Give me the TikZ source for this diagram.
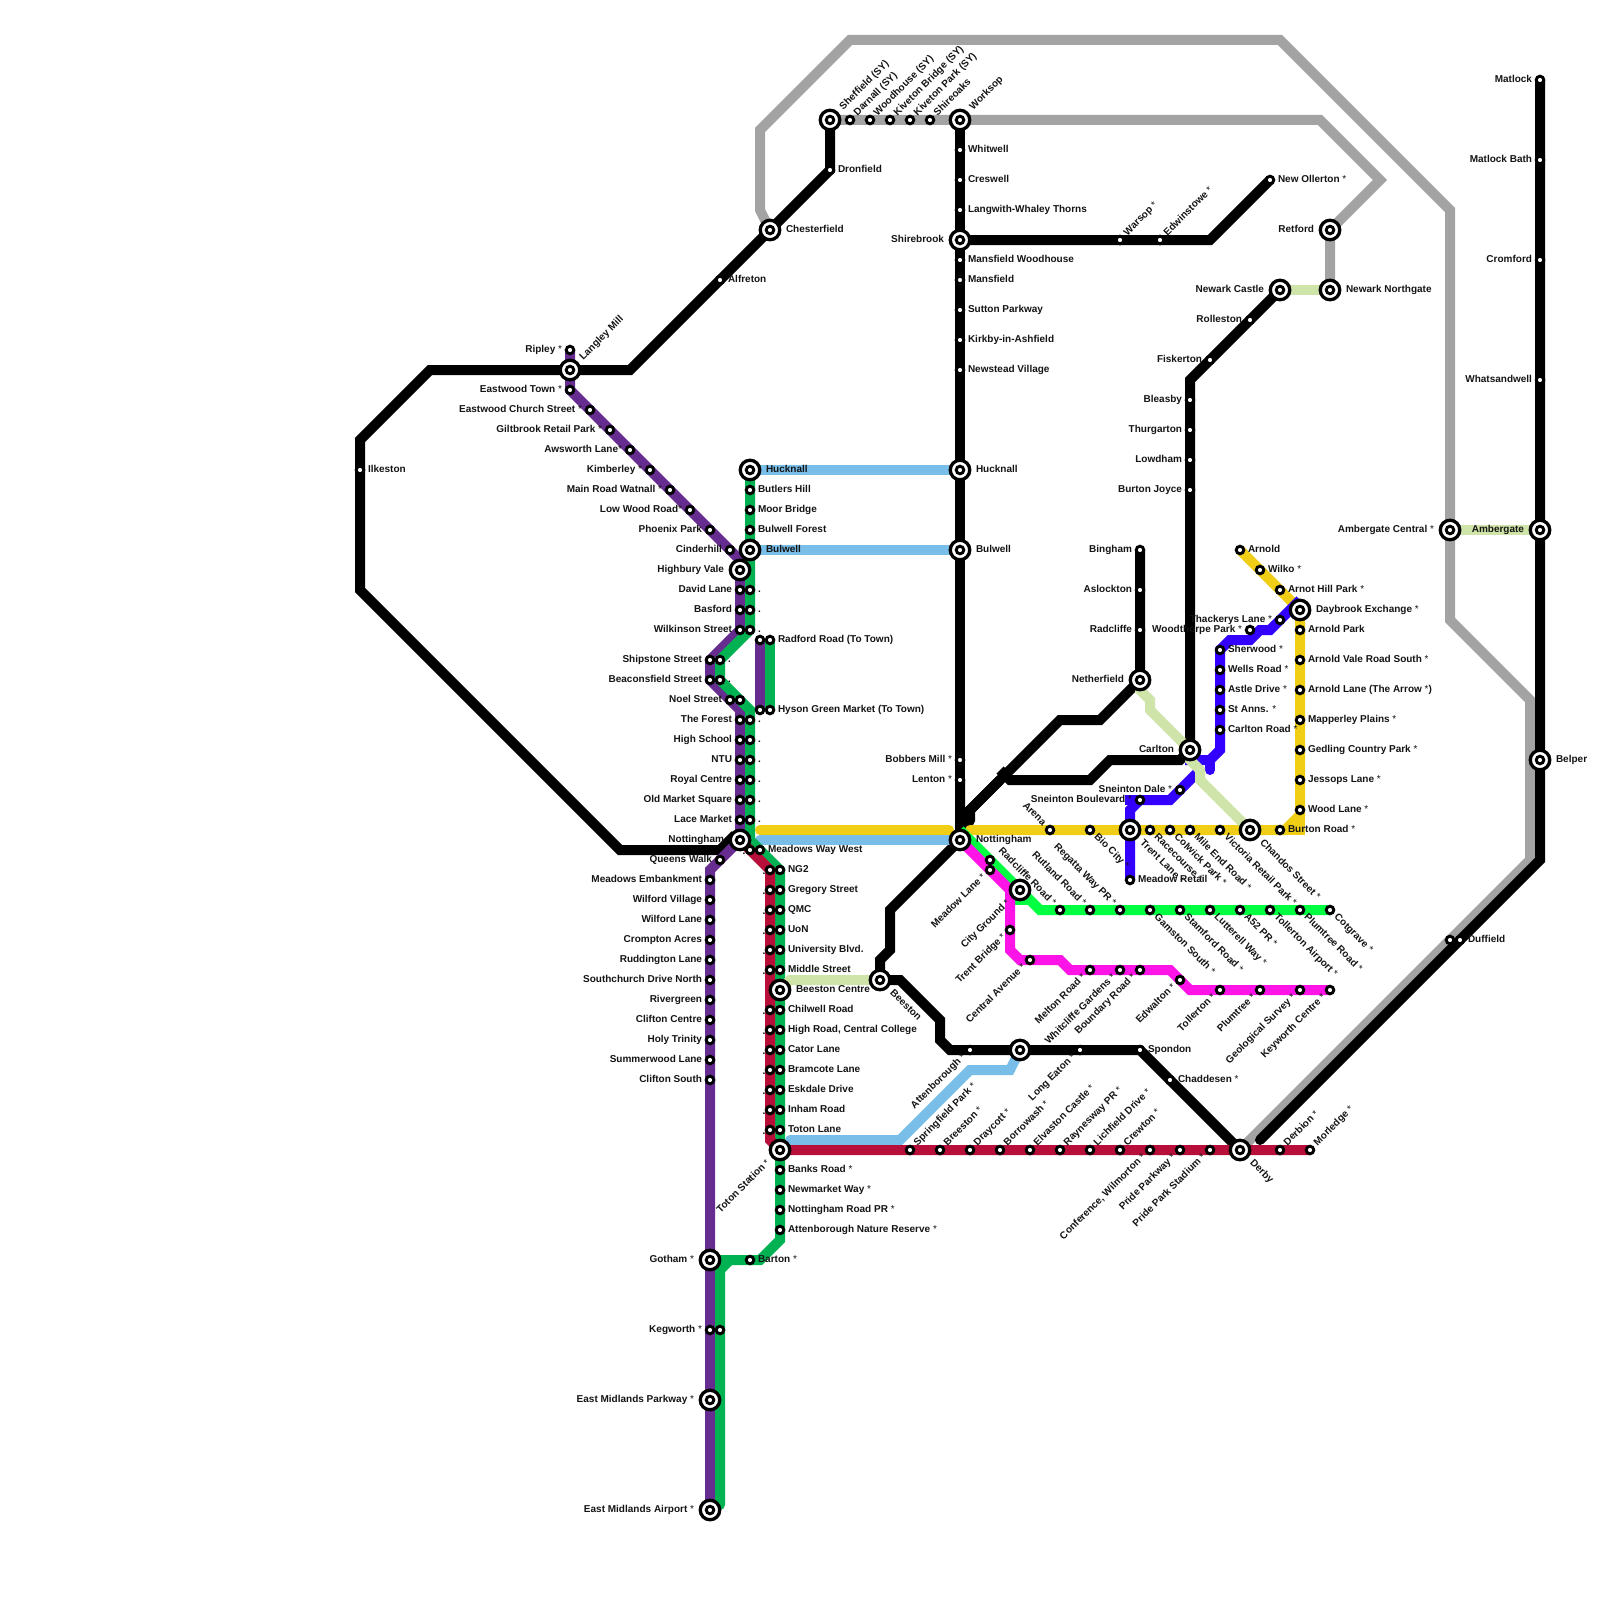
\documentclass[tikz,border=0pt]{standalone}
\usepackage{fontspec}
\setmainfont{Liberation Sans}
\pgfdeclarelayer{bg}
\pgfsetlayers{bg,main}
\definecolor{cgrey}{HTML}{A3A3A3}
\definecolor{cpurple}{HTML}{662C90}
\definecolor{cgreen}{HTML}{00B251}
\definecolor{cred}{HTML}{B80F3A}
\definecolor{cyel}{HTML}{F0CE15}
\definecolor{cneon}{HTML}{00FF41}
\definecolor{cmag}{HTML}{FF14E8}
\definecolor{cblue}{HTML}{3300FF}
\definecolor{cpale}{HTML}{CFE4A9}
\definecolor{clight}{HTML}{79BDE9}
\newcommand{\sx}{{\mdseries *}}
\tikzset{
  stnode/.style={circle,draw=black,line width=2.9pt,fill=white,inner sep=0pt,outer sep=0pt,minimum size=7.6pt},
  intnode/.style={circle,draw=black,line width=3.3pt,fill=white,inner sep=0pt,outer sep=0pt,minimum size=19.5pt},
  lbl/.style={font=\fontsize{10}{10}\selectfont\bfseries,inner sep=0pt,outer sep=0pt,text height=7.2pt,text depth=2pt,text=black!92},
  ln/.style={line width=10pt,line join=miter},
  lnr/.style={line width=10pt,line join=miter,line cap=round}
}
\def\labN#1#2#3#4#5{}
\def\labD#1#2#3#4#5{\node[font=\fontsize{10}{10}\selectfont\bfseries,inner sep=0pt,outer sep=0pt,anchor=base east] (#1t) at (#2-4.5,#3+4) {#4};}
\def\labE#1#2#3#4#5{\node[lbl,anchor=west] (#1t) at (#2+#5,#3) {#4};}
\def\labW#1#2#3#4#5{\node[lbl,anchor=east] (#1t) at (#2-#5,#3) {#4};}
\def\labNE#1#2#3#4#5{\node[lbl,anchor=west,rotate=45] (#1t) at (#2+0.72*#5,#3-0.72*#5) {#4};}
\def\labSW#1#2#3#4#5{\node[lbl,anchor=east,rotate=45] (#1t) at (#2-0.72*#5,#3+0.72*#5) {#4};}
\def\labSE#1#2#3#4#5{\node[lbl,anchor=west,rotate=-45] (#1t) at (#2+0.72*#5,#3+0.72*#5) {#4};}
\def\labNW#1#2#3#4#5{\node[lbl,anchor=east,rotate=-45] (#1t) at (#2-0.72*#5,#3-0.72*#5) {#4};}
\newcommand{\st}[5]{\node[stnode] (#1) at (#2,#3) {};\csname lab#4\endcsname{#1}{#2}{#3}{#5}{8}}
\newcommand{\ist}[5]{\node[intnode] (#1) at (#2,#3) {};\node[stnode] (#1c) at (#2,#3) {};\csname lab#4\endcsname{#1}{#2}{#3}{#5}{16}}
\begin{document}
\begin{tikzpicture}[x=1pt,y=-1pt]
\useasboundingbox (0,0) rectangle (1600,1600);
% purple north-west branch
\st{rip}{570}{350}{W}{Ripley \sx}
\ist{lan}{570}{370}{NE}{Langley Mill}
\st{eat}{570}{390}{W}{Eastwood Town \sx}
\st{ecs}{590}{410}{W}{Eastwood Church Street \sx}
\st{gil}{610}{430}{W}{Giltbrook Retail Park \sx}
\st{aws}{630}{450}{W}{Awsworth Lane\sx}
\st{kim}{650}{470}{W}{Kimberley \sx}
\st{mrw}{670}{490}{W}{Main Road Watnall \sx}
\st{lwr}{690}{510}{W}{Low Wood Road\sx}
\st{pho}{710}{530}{W}{Phoenix Park}
\st{cin}{730}{550}{W}{Cinderhill}
\ist{hbv}{740}{570}{W}{Highbury Vale}
\ist{huc}{750}{470}{E}{Hucknall}
\st{but}{750}{490}{E}{Butlers Hill}
\st{moo}{750}{510}{E}{Moor Bridge}
\st{bfo}{750}{530}{E}{Bulwell Forest}
\ist{bul}{750}{550}{E}{Bulwell}
\st{dav}{740}{590}{W}{David Lane}\st{dav2}{750}{590}{E}{.}
\st{bas}{740}{610}{W}{Basford}\st{bas2}{750}{610}{E}{.}
\st{wil}{740}{630}{W}{Wilkinson Street}\st{wil2}{750}{630}{E}{.}
\st{shi}{710}{660}{W}{Shipstone Street}\st{shi2}{720}{660}{E}{.}
\st{bea}{710}{680}{W}{Beaconsfield Street}\st{bea2}{720}{680}{E}{.}
\st{noe}{730}{700}{W}{Noel Street}\st{noe2}{740}{700}{N}{}
\st{rad}{760}{640}{N}{}\st{rad2}{770}{640}{E}{Radford Road (To Town)}
\st{hys}{760}{710}{N}{}\st{hys2}{770}{710}{E}{Hyson Green Market (To Town)}
\st{for}{740}{720}{W}{The Forest}\st{for2}{750}{720}{E}{.}
\st{hig}{740}{740}{W}{High School}\st{hig2}{750}{740}{E}{.}
\st{ntu}{740}{760}{W}{NTU}\st{ntu2}{750}{760}{E}{.}
\st{roy}{740}{780}{W}{Royal Centre}\st{roy2}{750}{780}{E}{.}
\st{old}{740}{800}{W}{Old Market Square}\st{old2}{750}{800}{E}{.}
\st{lac}{740}{820}{W}{Lace Market}\st{lac2}{750}{820}{E}{.}
\ist{not}{740}{840}{W}{Nottingham}
\st{que}{720}{860}{W}{Queens Walk}
\st{mww}{750}{850}{D}{.}\st{mww2}{760}{850}{E}{Meadows Way West}
% tram south column
\st{ng}{770}{870}{D}{.}\st{ng2}{780}{870}{E}{NG2}
\st{gre}{770}{890}{D}{.}\st{gre2}{780}{890}{E}{Gregory Street}
\st{qmc}{770}{910}{D}{.}\st{qmc2}{780}{910}{E}{QMC}
\st{uon}{770}{930}{D}{.}\st{uon2}{780}{930}{E}{UoN}
\st{uni}{770}{950}{D}{.}\st{uni2}{780}{950}{E}{University Blvd.}
\st{mid}{770}{970}{D}{.}\st{mid2}{780}{970}{E}{Middle Street}
\ist{bec}{780}{990}{E}{Beeston Centre}
\st{chi}{770}{1010}{D}{.}\st{chi2}{780}{1010}{E}{Chilwell Road}
\st{hro}{770}{1030}{D}{.}\st{hro2}{780}{1030}{E}{High Road, Central College}
\st{cat}{770}{1050}{D}{.}\st{cat2}{780}{1050}{E}{Cator Lane}
\st{bra}{770}{1070}{D}{.}\st{bra2}{780}{1070}{E}{Bramcote Lane}
\st{esk}{770}{1090}{D}{.}\st{esk2}{780}{1090}{E}{Eskdale Drive}
\st{inh}{770}{1110}{D}{.}\st{inh2}{780}{1110}{E}{Inham Road}
\st{tol}{770}{1130}{D}{.}\st{tol2}{780}{1130}{E}{Toton Lane}
\ist{tot}{780}{1150}{SW}{Toton Station \sx}
\st{ban}{780}{1170}{E}{Banks Road \sx}
\st{nmw}{780}{1190}{E}{Newmarket Way \sx}
\st{nrp}{780}{1210}{E}{Nottingham Road PR \sx}
\st{anr}{780}{1230}{E}{Attenborough Nature Reserve \sx}
\st{bar}{750}{1260}{E}{Barton \sx}
\ist{got}{710}{1260}{W}{Gotham \sx}
\st{keg}{710}{1330}{W}{Kegworth \sx}\st{keg2}{720}{1330}{N}{}
\ist{emp}{710}{1400}{W}{East Midlands Parkway \sx}
\ist{ema}{710}{1510}{W}{East Midlands Airport \sx}
% purple south
\st{mem}{710}{880}{W}{Meadows Embankment}
\st{wvi}{710}{900}{W}{Wilford Village}
\st{wla}{710}{920}{W}{Wilford Lane}
\st{cro}{710}{940}{W}{Crompton Acres}
\st{rud}{710}{960}{W}{Ruddington Lane}
\st{sou}{710}{980}{W}{Southchurch Drive North}
\st{riv}{710}{1000}{W}{Rivergreen}
\st{cli}{710}{1020}{W}{Clifton Centre}
\st{hol}{710}{1040}{W}{Holy Trinity}
\st{sum}{710}{1060}{W}{Summerwood Lane}
\st{cso}{710}{1080}{W}{Clifton South}
% north
\ist{she}{830}{120}{NE}{Sheffield (SY)}
\st{dar}{850}{120}{NE}{Darnall (SY)}
\st{woo}{870}{120}{NE}{Woodhouse (SY)}
\st{kib}{890}{120}{NE}{Kiveton Bridge (SY)}
\st{kip}{910}{120}{NE}{Kiveton Park (SY)}
\st{sho}{930}{120}{NE}{Shireoaks}
\ist{wor}{960}{120}{NE}{Worksop}
\st{whi}{960}{150}{E}{Whitwell}
\st{cre}{960}{180}{E}{Creswell}
\st{lwt}{960}{210}{E}{Langwith-Whaley Thorns}
\ist{sbr}{960}{240}{W}{Shirebrook}
\st{mwo}{960}{260}{E}{Mansfield Woodhouse}
\st{man}{960}{280}{E}{Mansfield}
\st{sut}{960}{310}{E}{Sutton Parkway}
\st{kir}{960}{340}{E}{Kirkby-in-Ashfield}
\st{new}{960}{370}{E}{Newstead Village}
\ist{huk}{960}{470}{E}{Hucknall}
\ist{buk}{960}{550}{E}{Bulwell}
\st{bob}{960}{760}{W}{Bobbers Mill \sx}
\st{len}{960}{780}{W}{Lenton \sx}
\ist{ntm}{960}{840}{E}{Nottingham}
\st{dro}{830}{170}{E}{Dronfield}
\ist{che}{770}{230}{E}{Chesterfield}
\st{alf}{720}{280}{E}{Alfreton}
\st{ilk}{360}{470}{E}{Ilkeston}
\st{war}{1120}{240}{NE}{Warsop \sx}
\st{edw}{1160}{240}{NE}{Edwinstowe \sx}
\st{nol}{1270}{180}{E}{New Ollerton \sx}
\ist{ret}{1330}{230}{W}{Retford}
\ist{nno}{1330}{290}{E}{Newark Northgate}
\ist{nca}{1280}{290}{W}{Newark Castle}
\st{rol}{1250}{320}{W}{Rolleston}
\st{fis}{1210}{360}{W}{Fiskerton}
\st{ble}{1190}{400}{W}{Bleasby}
\st{thu}{1190}{430}{W}{Thurgarton}
\st{low}{1190}{460}{W}{Lowdham}
\st{bjo}{1190}{490}{W}{Burton Joyce}
\st{bin}{1140}{550}{W}{Bingham}
\st{asl}{1140}{590}{W}{Aslockton}
\st{rcl}{1140}{630}{W}{Radcliffe}
\ist{net}{1140}{680}{W}{Netherfield}
\ist{car}{1190}{750}{W}{Carlton}
% east tram
\st{arn}{1240}{550}{E}{Arnold}
\st{wik}{1260}{570}{E}{Wilko \sx}
\st{ahp}{1280}{590}{E}{Arnot Hill Park \sx}
\ist{day}{1300}{610}{E}{Daybrook Exchange \sx}
\st{apk}{1300}{630}{E}{Arnold Park}
\st{avr}{1300}{660}{E}{Arnold Vale Road South \sx}
\st{ala}{1300}{690}{E}{Arnold Lane (The Arrow \sx)}
\st{map}{1300}{720}{E}{Mapperley Plains \sx}
\st{ged}{1300}{750}{E}{Gedling Country Park \sx}
\st{jes}{1300}{780}{E}{Jessops Lane \sx}
\st{wla2}{1300}{810}{E}{Wood Lane \sx}
\st{bur}{1280}{830}{E}{Burton Road \sx}
\ist{cha}{1250}{830}{SE}{Chandos Street \sx}
\st{vic}{1220}{830}{SE}{Victoria Retail Park \sx}
\st{mil}{1190}{830}{SE}{Mile End Road \sx}
\st{col}{1170}{830}{SE}{Colwick Park \sx}
\st{rac}{1150}{830}{SE}{Racecourse \sx}
\ist{tre}{1130}{830}{SE}{Trent Lane \sx}
\st{bio}{1090}{830}{SE}{Bio City \sx}
\st{are}{1050}{830}{NW}{Arena}
\st{thk}{1280}{620}{W}{Thackerys Lane \sx}
\st{wdt}{1250}{630}{W}{Woodthorpe Park \sx}
\st{sww}{1220}{650}{E}{Sherwood \sx}
\st{wel}{1220}{670}{E}{Wells Road \sx}
\st{ast}{1220}{690}{E}{Astle Drive \sx}
\st{sta}{1220}{710}{E}{St Anns. \sx}
\st{crd}{1220}{730}{E}{Carlton Road \sx}
\st{sdl}{1180}{790}{W}{Sneinton Dale \sx}
\st{sbv}{1140}{800}{W}{Sneinton Boulevard \sx}
\st{mre}{1130}{880}{E}{Meadow Retail}
% neon line
\st{ml1}{990}{860}{N}{}
\st{mla}{990}{870}{SW}{Meadow Lane \sx}
\ist{rrd}{1020}{890}{SW}{City Ground \sx}
\st{rcr}{1060}{910}{NW}{Radcliffe Road \sx}
\st{rut}{1090}{910}{NW}{Rutland Road \sx}
\st{reg}{1120}{910}{NW}{Regatta Way PR \sx}
\st{gam}{1150}{910}{SE}{Gamston South \sx}
\st{stm}{1180}{910}{SE}{Stamford Road \sx}
\st{lut}{1210}{910}{SE}{Lutterell Way \sx}
\st{a52}{1240}{910}{SE}{A52 PR \sx}
\st{tla}{1270}{910}{SE}{Tollerton Airport \sx}
\st{plr}{1300}{910}{SE}{Plumtree Road \sx}
\st{cot}{1330}{910}{SE}{Cotgrave \sx}
% magenta
\st{tbr}{1010}{930}{SW}{Trent Bridge \sx}
\st{cav}{1030}{960}{SW}{Central Avenue \sx}
\st{mel}{1090}{970}{SW}{Melton Road \sx}
\st{wgd}{1120}{970}{SW}{Whitcliffe Gardens \sx}
\st{bou}{1140}{970}{SW}{Boundary Road \sx}
\st{edl}{1180}{980}{SW}{Edwalton \sx}
\st{tlr}{1220}{990}{SW}{Tollerton \sx}
\st{plu}{1260}{990}{SW}{Plumtree \sx}
\st{geo}{1300}{990}{SW}{Geological Survey \sx}
\st{key}{1330}{990}{SW}{Keyworth Centre \sx}
% south black
\ist{bee}{880}{980}{SE}{Beeston}
\st{att}{970}{1050}{SW}{Attenborough \sx}
\ist{lec}{1020}{1050}{N}{}
\st{lon}{1080}{1050}{SW}{Long Eaton \sx}
\st{spo}{1140}{1050}{E}{Spondon}
\st{chd}{1170}{1080}{E}{Chaddesen \sx}
\ist{der}{1240}{1150}{SE}{Derby}
\st{spr}{910}{1150}{NE}{Springfield Park \sx}
\st{bre}{940}{1150}{NE}{Breeston \sx}
\st{dra}{970}{1150}{NE}{Draycott \sx}
\st{bow}{1000}{1150}{NE}{Borrowash \sx}
\st{elv}{1030}{1150}{NE}{Elvaston Castle \sx}
\st{ray}{1060}{1150}{NE}{Raynesway PR \sx}
\st{lic}{1090}{1150}{NE}{Lichfield Drive \sx}
\st{crw}{1120}{1150}{NE}{Crewton \sx}
\st{con}{1150}{1150}{SW}{Conference, Wilmorton \sx}
\st{ppk}{1180}{1150}{SW}{Pride Parkway \sx}
\st{pps}{1210}{1150}{SW}{Pride Park Stadium \sx}
\st{dbn}{1280}{1150}{NE}{Derbion \sx}
\st{mor}{1310}{1150}{NE}{Morledge \sx}
% far east
\st{mat}{1540}{80}{W}{Matlock}
\st{mab}{1540}{160}{W}{Matlock Bath}
\st{crm}{1540}{260}{W}{Cromford}
\st{wsw}{1540}{380}{W}{Whatsandwell}
\ist{amb}{1540}{530}{W}{Ambergate}
\ist{amc}{1450}{530}{W}{Ambergate Central \sx}
\ist{bel}{1540}{760}{E}{Belper}
\st{duf}{1450}{940}{N}{}\st{duf2}{1460}{940}{E}{Duffield}
\coordinate (gEnd) at (1260,1140);
\coordinate (nEnd) at (735,835);
\coordinate (yL) at (760,830);\coordinate (yR) at (949,830);\coordinate (yE) at (970,830);
\coordinate (lbL) at (760,840);
\coordinate (lbT) at (790,1140);
\coordinate (stub) at (1210,770);
\coordinate (gnEnd) at (720,1505);

\begin{pgfonlayer}{bg}
% grey
\draw[ln,cgrey] (che.center)--(760,210)--(760,130)--(850,40)--(1280,40)--(1450,210)--(amc.center)--(1450,620)--(1530,700)--(1530,860)--(duf.center)--(der.center);
\draw[ln,cgrey] (she.center)--(dar.center)--(woo.center)--(kib.center)--(kip.center)--(sho.center)--(wor.center)--(1320,120)--(1380,180)--(ret.center)--(nno.center);
% black
\draw[ln,black] (she.center)--(dro.center)--(che.center)--(alf.center)--(630,370)--(lan.center)--(430,370)--(360,440)--(ilk.center)--(360,590)--(620,850)--(720,850)--(nEnd);
\draw[ln,black] (wor.center)--(whi.center)--(cre.center)--(lwt.center)--(sbr.center)--(mwo.center)--(man.center)--(sut.center)--(kir.center)--(new.center)--(huk.center)--(buk.center)--(bob.center)--(len.center)--(ntm.center);
\draw[ln,black] (sbr.center)--(war.center)--(edw.center)--(1210,240)--(nol.center);
\draw[ln,black] (bin.center)--(asl.center)--(rcl.center)--(net.center)--(1100,720)--(1060,720)--(960,820)--(len.center);
\draw[ln,black] (car.center)--(1180,760)--(1110,760)--(1090,780)--(1010,780)--(1000,770);
\draw[ln,black] (1000,780)--(970,810)--(970,820)--(ntm.center);
\draw[ln,black] (car.center)--(bjo.center)--(low.center)--(thu.center)--(ble.center)--(1190,380)--(fis.center)--(rol.center)--(nca.center);
\draw[ln,black] (ntm.center)--(890,910)--(890,950)--(880,960)--(bee.center)--(900,980)--(940,1020)--(940,1040)--(950,1050)--(att.center)--(lec.center)--(lon.center)--(spo.center)--(chd.center)--(der.center);
\draw[lnr,black] (mat.center)--(mab.center)--(crm.center)--(wsw.center)--(amb.center)--(bel.center)--(1540,860)--(duf2.center)--(gEnd);
% light blue
\draw[ln,clight] (huc.center)--(huk.center);
\draw[ln,clight] (bul.center)--(buk.center);
\draw[lnr,clight] (lbL)--(ntm.center);
\draw[lnr,clight] (lbT)--(900,1140)--(970,1070)--(1010,1070)--(lec.center);
% purple
\draw[ln,cpurple] (rip.center)--(lan.center)--(eat.center)--(ecs.center)--(gil.center)--(aws.center)--(kim.center)--(mrw.center)--(lwr.center)--(pho.center)--(cin.center)--(740,560)--(hbv.center)--(dav.center)--(bas.center)--(wil.center)--(shi.center)--(bea.center)--(noe.center)--(740,710)--(for.center)--(hig.center)--(ntu.center)--(roy.center)--(old.center)--(lac.center)--(not.center)--(que.center)--(710,870)--(mem.center)--(wvi.center)--(wla.center)--(cro.center)--(rud.center)--(sou.center)--(riv.center)--(cli.center)--(hol.center)--(sum.center)--(cso.center)--(got.center)--(keg.center)--(emp.center)--(ema.center);
\draw[ln,cpurple] (rad.center)--(hys.center);
% green
\draw[ln,cgreen] (huc.center)--(but.center)--(moo.center)--(bfo.center)--(bul.center)--(dav2.center)--(bas2.center)--(wil2.center)--(shi2.center)--(bea2.center)--(750,710)--(for2.center)--(hig2.center)--(ntu2.center)--(roy2.center)--(old2.center)--(lac2.center)--(750,840)--(ng2.center)--(gre2.center)--(qmc2.center)--(uon2.center)--(uni2.center)--(mid2.center)--(bec.center)--(chi2.center)--(hro2.center)--(cat2.center)--(bra2.center)--(esk2.center)--(inh2.center)--(tol2.center)--(tot.center)--(ban.center)--(nmw.center)--(nrp.center)--(anr.center)--(780,1240)--(760,1260)--(bar.center)--(730,1260);
\draw[ln,cgreen] (got.center)--(730,1260);
\draw[lnr,cgreen] (730,1260)--(720,1270)--(keg2.center)--(gnEnd);
\draw[ln,cgreen] (rad2.center)--(hys2.center);
% red
\draw[ln,cred] (not.center)--(ng.center)--(gre.center)--(qmc.center)--(uon.center)--(uni.center)--(mid.center)--(chi.center)--(hro.center)--(cat.center)--(bra.center)--(esk.center)--(inh.center)--(tol.center)--(770,1140)--(tot.center)--(spr.center)--(bre.center)--(dra.center)--(bow.center)--(elv.center)--(ray.center)--(lic.center)--(crw.center)--(con.center)--(ppk.center)--(pps.center)--(der.center)--(dbn.center)--(mor.center);
% yellow
\draw[lnr,cyel] (yL)--(yR);
\draw[lnr,cyel] (yE)--(are.center)--(bio.center)--(tre.center)--(rac.center)--(col.center)--(mil.center)--(vic.center)--(cha.center)--(bur.center)--(1285,830)--(1300,815)--(wla2.center)--(jes.center)--(ged.center)--(map.center)--(ala.center)--(avr.center)--(apk.center)--(day.center)--(ahp.center)--(wik.center)--(arn.center);
\draw[ln,cyel] (1285,830)--(1300,830)--(1300,815);
% neon
\draw[ln,cneon] (960,830)--(1040,910)--(rcr.center)--(rut.center)--(reg.center)--(gam.center)--(stm.center)--(lut.center)--(a52.center)--(tla.center)--(plr.center)--(cot.center);
\draw[ln,cneon] (rrd.center)--(1020,900)--(1030,900);
% magenta
\draw[ln,cmag] (ntm.center)--(1010,890)--(tbr.center)--(1010,950)--(1020,960)--(cav.center)--(1060,960)--(1070,970)--(mel.center)--(wgd.center)--(bou.center)--(1170,970)--(edl.center)--(1190,990)--(tlr.center)--(plu.center)--(geo.center)--(key.center);
% blue
\draw[ln,cblue] (mre.center)--(tre.center)--(1130,810)--(sbv.center)--(1170,800)--(sdl.center)--(1200,770);
\draw[ln,cblue] (1130,805)--(1130,800)--(sbv.center);
\draw[ln,cblue] (car.center)--(1190,760)--(1210,760)--(1220,750)--(crd.center)--(sta.center)--(ast.center)--(wel.center)--(sww.center)--(1230,640)--(1250,640)--(1260,630)--(1270,630)--(thk.center)--(1300,600);
\draw[lnr,cblue] (1210,760)--(stub);
% pale green
\draw[ln,cpale] (net.center)--(1140,690)--(1150,700)--(1150,710)--(car.center)--(1190,760)--(1200,770)--(1200,780)--(cha.center);
\draw[ln,cpale] (amc.center)--(amb.center);
\draw[ln,cpale] (nca.center)--(nno.center);
\draw[ln,cpale] (bec.center)--(790,980)--(bee.center);
\end{pgfonlayer}
\end{tikzpicture}
\end{document}
